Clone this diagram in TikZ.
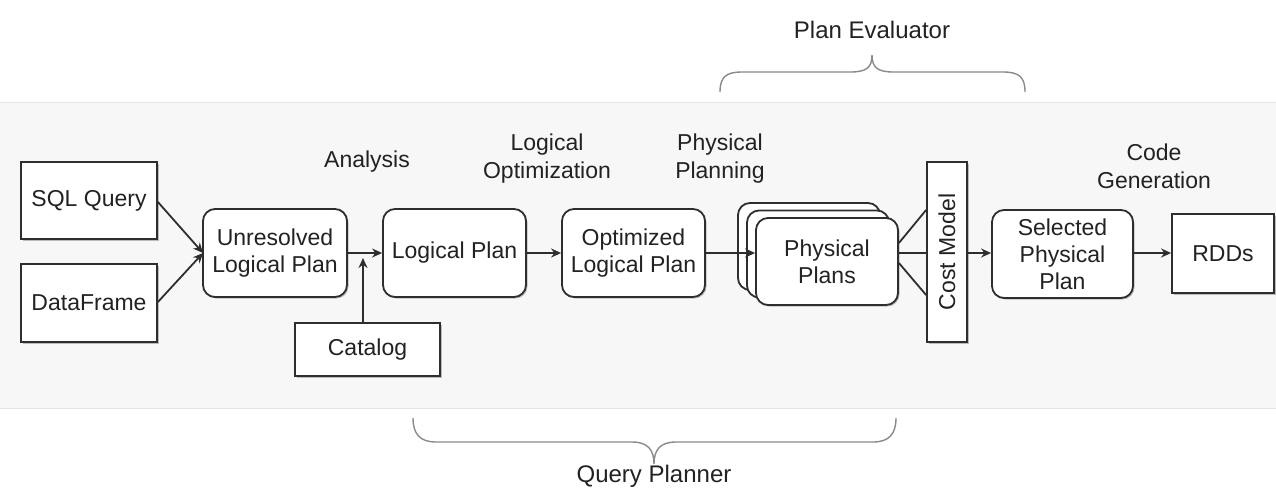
\documentclass[tikz,border=0pt]{standalone}
\usepackage{fontspec}
\setmainfont{Liberation Sans}
\usetikzlibrary{arrows.meta,shadows}
\definecolor{ln}{HTML}{2E2E2E}
\definecolor{tx}{HTML}{222222}
\definecolor{panel}{HTML}{F7F7F7}
\definecolor{brc}{HTML}{8A8A8A}
\begin{document}
\begin{tikzpicture}[x=1pt,y=-1pt,
  base/.style={draw=ln, line width=1.8pt, fill=white, text=tx, align=center, inner sep=0pt,
    font=\fontsize{23}{27}\selectfont,
    drop shadow={shadow xshift=1.5pt, shadow yshift=-1.5pt, opacity=.35, fill=black!70}},
  sqbox/.style={base},
  rbox/.style={base, rounded corners=12pt},
  lbl/.style={text=tx, align=center, font=\fontsize{23}{28}\selectfont},
  conn/.style={draw=ln, line width=1.8pt},
  arr/.style={conn, -{Stealth[length=10pt,width=9pt]}},
  brace/.style={draw=brc, line width=1.4pt}
]
\useasboundingbox (0,0) rectangle (1276,490);
\fill[white] (0,0) rectangle (1276,490);
\fill[panel] (0,102) rectangle (1276,408);
\draw[black!10, line width=0.8pt] (0,102) -- (1276,102) (0,408) -- (1276,408);

% boxes
\node[sqbox, minimum width=136pt, minimum height=77pt] (sql) at (89,200.5) {SQL Query};
\node[sqbox, minimum width=136pt, minimum height=78pt] (df) at (89,303) {DataFrame};
\node[rbox, minimum width=144pt, minimum height=88pt] (unres) at (275,253) {Unresolved\\Logical Plan};
\node[sqbox, minimum width=145pt, minimum height=53pt] (cat) at (367.5,349.5) {Catalog};
\node[rbox, minimum width=143pt, minimum height=88pt] (lp) at (454.5,253) {Logical Plan};
\node[rbox, minimum width=143pt, minimum height=88pt] (opt) at (633.5,253) {Optimized\\Logical Plan};
\node[rbox, minimum width=142pt, minimum height=87pt] (ph3) at (809,246.5) {};
\node[rbox, minimum width=142pt, minimum height=87pt] (ph2) at (818,254) {};
\node[rbox, minimum width=142pt, minimum height=87pt] (ph) at (827,261.5) {Physical\\Plans};
\node[sqbox, minimum width=40pt, minimum height=180pt] (cost) at (947,252) {};
\node[text=tx, rotate=90, font=\fontsize{23}{27}\selectfont] (costt) at (cost.center) {Cost Model};
\node[rbox, minimum width=141pt, minimum height=88pt] (sel) at (1062.5,254) {Selected\\Physical\\Plan};
\node[sqbox, minimum width=102pt, minimum height=79pt] (rdd) at (1223,253.5) {RDDs};

% labels
\node[lbl] (an) at (367,162) {Analysis};
\node[lbl] (lo) at (547,159) {Logical\\Optimization};
\node[lbl] (pp) at (720,159) {Physical\\Planning};
\node[lbl] (cg) at (1154,166) {Code\\Generation};
\node[lbl, font=\fontsize{24}{28}\selectfont] (pe) at (872,30) {Plan Evaluator};
\node[lbl, font=\fontsize{24}{28}\selectfont] (qp) at (654,476) {Query Planner};

% connectors
\coordinate (j) at (203,253);
\draw[arr] (sql.east |- 0,202) -- (j);
\draw[arr] (df.east |- 0,302) -- (j);
\draw[arr] (unres.east) -- (lp.west);
\coordinate (ct) at (363,258);
\draw[arr] (cat.north -| ct) -- (ct);
\draw[arr] (lp.east) -- (opt.west);
\draw[arr] (opt.east) -- (opt.east -| ph.west);
\draw[conn] (ph.east |- 0,243) -- (cost.west |- 0,210);
\draw[conn] (ph.east |- 0,253) -- (cost.west |- 0,253);
\draw[conn] (ph.east |- 0,263) -- (cost.west |- 0,295);
\draw[arr] (cost.east |- 0,253) -- (sel.west |- 0,253);
\draw[arr] (sel.east |- 0,253) -- (rdd.west |- 0,253);

% braces
\draw[brace] (720,92) .. controls (720,77) and (726,72) .. (742,72) -- (850,72)
  .. controls (866,72) and (872,68) .. (872,55)
  .. controls (872,68) and (878,72) .. (894,72) -- (1003,72)
  .. controls (1019,72) and (1025,77) .. (1025,92);
\draw[brace] (413,418) .. controls (413,434) and (420,442) .. (436,442) -- (632,442)
  .. controls (648,442) and (654,450) .. (654,464)
  .. controls (654,450) and (660,442) .. (676,442) -- (873,442)
  .. controls (889,442) and (896,434) .. (896,418);
\end{tikzpicture}
\end{document}
